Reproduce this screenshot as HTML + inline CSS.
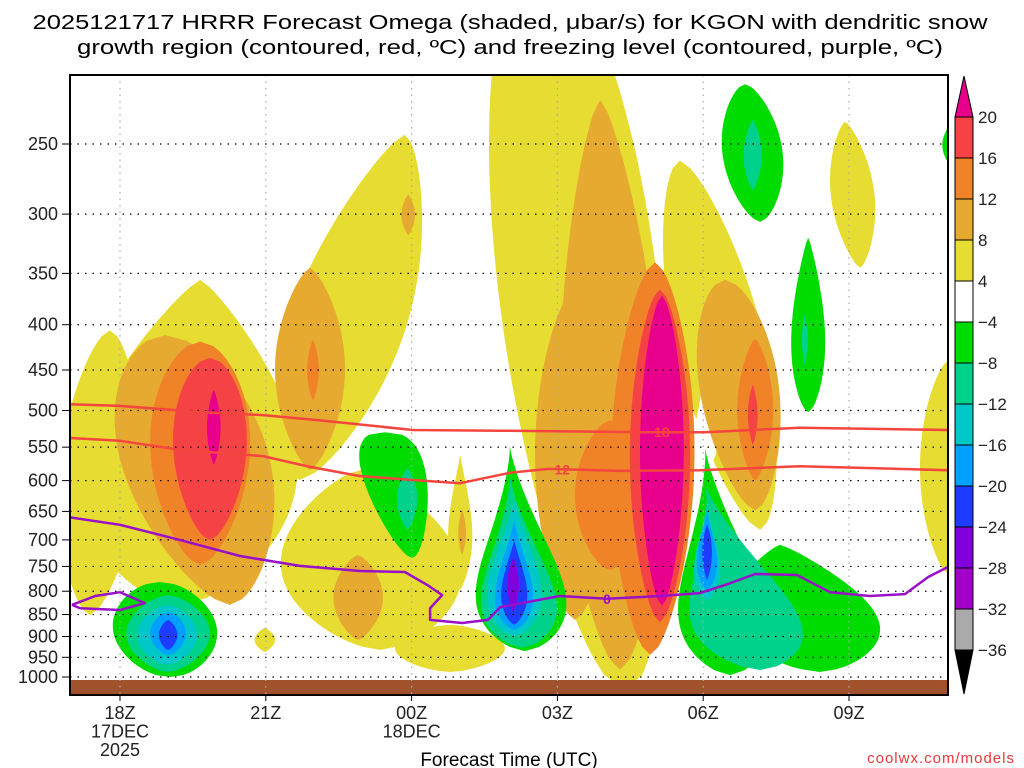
<!DOCTYPE html>
<html><head><meta charset="utf-8">
<style>
html,body{margin:0;padding:0;background:#fff;}
svg{display:block;font-family:"Liberation Sans",sans-serif;}
</style></head>
<body>
<svg id="chart" width="1024" height="768" viewBox="0 0 1024 768" xmlns="http://www.w3.org/2000/svg">
<rect x="0" y="0" width="1024" height="768" fill="#fff"/>
<text x="510" y="29" text-anchor="middle" font-size="20" textLength="955" lengthAdjust="spacingAndGlyphs" fill="#000">2025121717 HRRR Forecast Omega (shaded, μbar/s) for KGON with dendritic snow</text>
<text x="510" y="54" text-anchor="middle" font-size="20" textLength="866" lengthAdjust="spacingAndGlyphs" fill="#000">growth region (contoured, red, ºC) and freezing level (contoured, purple, ºC)</text>
<defs><clipPath id="plotclip"><rect x="70" y="75" width="878" height="620"/></clipPath></defs>
<g id="fills" clip-path="url(#plotclip)"></g>
<g id="grid"></g>
<g id="lines" clip-path="url(#plotclip)"></g>
<rect x="70" y="75" width="878" height="620" fill="none" stroke="#000" stroke-width="2"/>
<g id="axes"></g>
<g id="cbar"></g>
<text x="509" y="766" text-anchor="middle" font-size="19" fill="#000">Forecast Time (UTC)</text>
<text x="1015" y="763" text-anchor="end" font-size="15" fill="#e8383a" letter-spacing="1">coolwx.com/models</text>
</svg>
<script>
// ---- data (hours since 18Z 17DEC, pressure hPa) ----
const timeTicks = [0, 3, 6, 9, 12, 15];
const timeLabels = [["18Z","17DEC","2025"],["21Z"],["00Z","18DEC"],["03Z"],["06Z"],["09Z"]];
const pressureTicks = [250,300,350,400,450,500,550,600,650,700,750,800,850,900,950,1000];
const cbarLevels = [20,16,12,8,4,-4,-8,-12,-16,-20,-24,-28,-32,-36];
const cbarColors = ["#f54245","#f08228","#e6aa30","#e6dc32","#ffffff","#00dc00","#00d28c","#00c8c8","#00a0ff","#1e3cff","#8200dc","#a000c8","#aaaaaa"];
// blobs: [hTop, hBot, pTop, pBot, halfWidthHours, peakFrac, roundness]
const blobsYellow = [
 [1.65,1.23,356,829,2.25,0.6,0.6],[5.86,3.70,244,599,1.23,0.55,0.6],[-0.21,-0.62,406,851,0.82,0.5,0.6],
 [4.94,5.35,584,932,1.85,0.55,0.6],[6.79,6.79,873,987,1.13,0.5,0.6],[7.0,7.0,561,797,0.25,0.6,0.8],
 [2.98,2.98,880,937,0.21,0.5,0.8],[8.64,10.39,155,1034,1.65,0.45,0.5],[11.52,13.17,261,682,0.93,0.5,0.6],
 [14.92,15.23,236,345,0.45,0.5,0.7],[17.08,17.08,438,767,0.62,0.5,0.6]];
const blobsWhite = [[12.04,12.04,409,584,0.25,0.8,0.8]];
const blobsLightOrange = [
 [0.93,2.26,411,829,1.54,0.45,0.6],[3.91,3.91,345,584,0.72,0.5,0.7],[4.90,4.90,728,908,0.51,0.5,0.7],
 [5.93,5.93,285,317,0.14,0.5,0.8],[7.04,7.04,648,728,0.08,0.5,0.8],[9.88,10.29,223,982,1.03,0.55,0.6],
 [9.36,9.36,365,862,0.82,0.5,0.6],[12.45,13.07,356,648,0.82,0.45,0.6]];
const blobsOrange = [
 [1.65,1.65,418,747,1.03,0.45,0.6],[3.97,3.97,416,487,0.12,0.5,0.8],[11.01,10.91,340,944,0.86,0.5,0.6],
 [10.08,10.08,513,757,0.72,0.5,0.6],[13.07,13.07,415,600,0.37,0.5,0.7]];
const blobsRed = [[1.85,1.85,436,700,0.76,0.45,0.6],[11.11,11.11,365,867,0.62,0.5,0.6],[13.02,13.02,468,547,0.10,0.5,0.8]];
const blobsMagenta = [[1.93,1.93,474,576,0.14,0.5,0.8],[11.15,11.15,371,831,0.45,0.5,0.6]];
const blobsGreen = [
 [0.82,1.03,781,1000,1.07,0.5,0.5],[5.45,6.01,529,734,0.66,0.3,0.6],[8.02,8.33,547,935,0.93,0.75,0.6],
 [12.04,12.55,551,995,0.93,0.75,0.6],[13.58,14.40,709,987,1.54,0.6,0.6],[12.86,13.17,214,306,0.62,0.5,0.6],
 [14.16,14.16,319,502,0.35,0.6,0.6],[17.08,17.08,238,264,0.16,0.5,0.8]];
const blobsTeal = [
 [0.99,0.99,808,987,0.86,0.5,0.6],[5.91,5.91,581,682,0.21,0.5,0.8],[8.02,8.27,591,927,0.78,0.75,0.6],
 [12.04,13.17,607,982,1.13,0.75,0.6],[13.02,13.02,235,282,0.19,0.5,0.8],[14.09,14.09,390,444,0.06,0.5,0.8]];
const blobsCyan = [[0.97,0.97,829,969,0.62,0.5,0.6],[8.11,8.11,631,899,0.56,0.7,0.6],[12.08,12.08,631,818,0.27,0.7,0.7]];
const blobsBlue = [[0.99,0.99,844,944,0.37,0.5,0.6],[8.11,8.11,665,885,0.39,0.7,0.6],[12.08,12.08,651,797,0.21,0.65,0.7]];
const blobsDarkBlue = [[0.99,0.99,862,932,0.19,0.5,0.7],[8.11,8.11,700,873,0.27,0.65,0.7],[12.08,12.08,673,777,0.10,0.5,0.8]];
const blobsPurple = [[8.09,8.09,734,844,0.12,0.5,0.8]];
// contour lines: hours & pressure
const red18Hours = [-1.03,0,1.65,2.94,4.12,6.03,7.82,10.70,12.04,13.99,17.04];
const red18Press = [492,494,502,506,513,526,527,529,529,523,526];
const red12Hours = [-1.03,0,1.23,2.94,3.91,4.94,6.03,7.0,8.02,8.81,10.29,11.93,13.99,17.04];
const red12Press = [537,541,554,563,579,593,599,604,588,582,585,584,578,584];
const frzHours = [-1.03,0,1.23,2.47,3.70,4.94,5.86,6.32,6.63,6.38,6.38,7.04,7.57,7.82,9.05,10.02,11.11,11.93,12.51,13.07,13.93,14.61,15.43,16.15,16.63,17.04];
const frzPress = [660,673,700,730,749,759,761,787,808,836,862,869,862,834,810,816,810,804,785,765,767,802,810,806,771,751];
const frzLoopHours = [-0.99,-0.51,0,0.51,0,-0.82,-0.99];
const frzLoopPress = [829,810,802,825,840,836,829];

// ---- axes ----
const X = h => 120 + 48.6*h;
const Y = p => 144 + 384.5*Math.log(p/250);
const NS = "http://www.w3.org/2000/svg";
function mk(tag, attrs, parent){const e=document.createElementNS(NS,tag);for(const k in attrs)e.setAttribute(k,attrs[k]);parent.appendChild(e);return e;}

const fills = document.getElementById('fills');
function blobPath(b){
  const [h0,h1,p0,p1,w,peak,r]=b;
  const y0=Y(p0), y1=Y(p1), x0=X(h0), x1=X(h1), wp=w*48.6;
  const a=Math.log(0.5)/Math.log(peak);
  const N=48, R=[], L=[];
  for(let i=0;i<=N;i++){
    const s=i/N, y=y0+s*(y1-y0), cx=x0+s*(x1-x0);
    const hw=wp*Math.pow(Math.max(0,Math.sin(Math.PI*Math.pow(s,a))),r);
    R.push([cx+hw,y]); L.push([cx-hw,y]);
  }
  const pts=R.concat(L.reverse());
  return 'M'+pts.map(q=>q[0].toFixed(1)+','+q[1].toFixed(1)).join('L')+'Z';
}
function drawBlobs(list,color,name){
  list.forEach(b=>{
    const e=mk('path',{d:blobPath(b),fill:color},fills);
    
    
  });
}
drawBlobs(blobsYellow,"#e6dc32","omega-4-8");
drawBlobs(blobsWhite,"#ffffff","omega-neutral");
drawBlobs(blobsLightOrange,"#e6aa30","omega-8-12");
drawBlobs(blobsOrange,"#f08228","omega-12-16");
drawBlobs(blobsRed,"#f54245","omega-16-20");
drawBlobs(blobsMagenta,"#e8008c","omega-above-20");
drawBlobs(blobsGreen,"#00dc00","omega-neg4-neg8");
drawBlobs(blobsTeal,"#00d28c","omega-neg8-neg12");
drawBlobs(blobsCyan,"#00c8c8","omega-neg12-neg16");
drawBlobs(blobsBlue,"#00a0ff","omega-neg16-neg20");
drawBlobs(blobsDarkBlue,"#1e3cff","omega-neg20-neg24");
drawBlobs(blobsPurple,"#8200dc","omega-neg24-neg28");
const ground = mk('rect',{x:70,y:680,width:878,height:15,fill:"#a0522d"},fills);



// grid + ticks
const grid=document.getElementById('grid'), axes=document.getElementById('axes');
pressureTicks.forEach(p=>{
  const y=Y(p);
  const g=mk('line',{x1:70,x2:948,y1:y,y2:y,stroke:"#000","stroke-width":1.2,"stroke-dasharray":"1.5,6"},grid);
  
  
  const t=mk('line',{x1:62,x2:70,y1:y,y2:y,stroke:"#000","stroke-width":1},axes);
  
  
  const l=mk('text',{x:58,y:y+6,"text-anchor":"end","font-size":18,fill:"#222"},axes);
  l.textContent=p;
  
  
});
timeTicks.forEach((h,i)=>{
  const x=X(h);
  const g=mk('line',{x1:x,x2:x,y1:75,y2:695,stroke:"#aaa","stroke-width":1.2,"stroke-dasharray":"1.5,5"},grid);
  
  
  const t=mk('line',{x1:x,x2:x,y1:695,y2:701,stroke:"#000","stroke-width":1},axes);
  
  
  timeLabels[i].forEach((s,j)=>{
    const l=mk('text',{x:x,y:719+j*18.5,"text-anchor":"middle","font-size":18,fill:"#222"},axes);
    l.textContent=s;
    
    
  });
});

// contour lines
const lines=document.getElementById('lines');
function drawLine(hs,ps,color,name){
  const pts=hs.map((h,i)=>X(h).toFixed(1)+','+Y(ps[i]).toFixed(1)).join(' ');
  const e=mk('polyline',{points:pts,fill:"none",stroke:color,"stroke-width":2.5,"stroke-linejoin":"round"},lines);
  
  
}
drawLine(red18Hours,red18Press,"#f5453f","dgz-minus18-contour");
drawLine(red12Hours,red12Press,"#f5453f","dgz-minus12-contour");
drawLine(frzHours,frzPress,"#9a10c8","freezing-level-contour");
drawLine(frzLoopHours,frzLoopPress,"#9a10c8","freezing-level-loop");
function lbl(txt,h,p,color,name){
  const t=mk('text',{x:X(h),y:Y(p)+5,"text-anchor":"middle","font-size":14,"font-weight":"bold",fill:color,stroke:"none"},lines);
  t.textContent=txt;
  
  
}
lbl("18",11.15,529,"#f5453f","label-minus18");
lbl("12",9.1,583,"#f5453f","label-minus12");
lbl("0",10.02,816,"#9a10c8","label-zero");

// colorbar
const cb=document.getElementById('cbar');
const bx=955,bw=18,by0=117,bh=41;
const up=mk('polygon',{points:`${bx},${by0} ${bx+bw},${by0} ${bx+bw/2},76`,fill:"#e8008c",stroke:"#000","stroke-width":1},cb);


cbarColors.forEach((c,i)=>{
  const r=mk('rect',{x:bx,y:by0+i*bh,width:bw,height:bh,fill:c,stroke:"#000","stroke-width":1},cb);
  
  
});
const yEnd=by0+cbarColors.length*bh;
const dn=mk('polygon',{points:`${bx},${yEnd} ${bx+bw},${yEnd} ${bx+bw/2},694`,fill:"#000",stroke:"#000","stroke-width":1},cb);


cbarLevels.forEach((v,i)=>{
  const t=mk('text',{x:978,y:by0+i*bh+6,"font-size":17,fill:"#222"},cb);
  t.textContent=v<0?('\u2212'+Math.abs(v)):String(v);
  
  
});
</script>
</body></html>
